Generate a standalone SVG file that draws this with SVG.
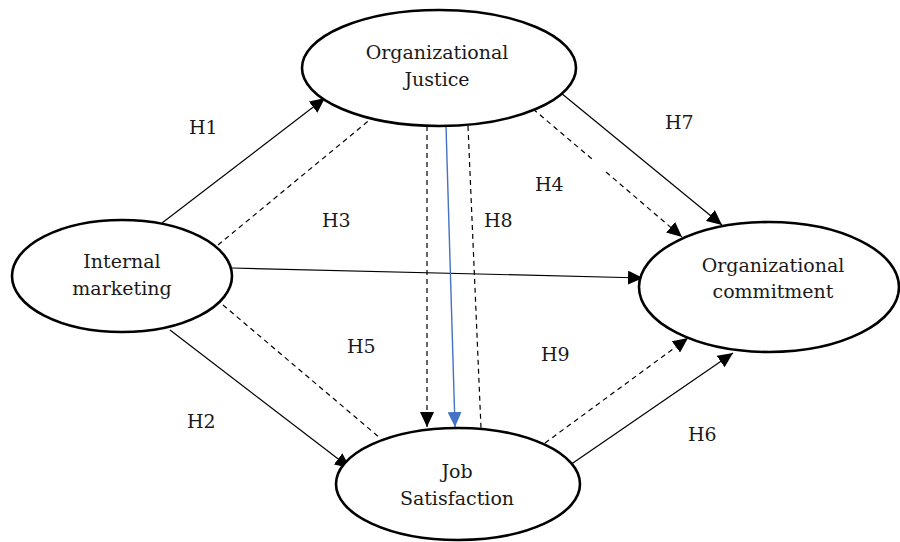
<svg xmlns="http://www.w3.org/2000/svg" width="900" height="542" viewBox="0 0 900 542">
<style>
.node ellipse{fill:#fff;stroke:#000;stroke-width:2.6}
text{font-family:"DejaVu Serif","Liberation Serif",serif;font-size:19px;fill:#1a1a1a}
.c{text-anchor:middle}
.s{stroke:#000;stroke-width:1.2;fill:none}
.d{stroke:#000;stroke-width:1.2;fill:none;stroke-dasharray:5 4}
.b{stroke:#4472C4;stroke-width:1.4;fill:none}
</style>
<defs>
<marker id="ah" markerUnits="userSpaceOnUse" markerWidth="16" markerHeight="14" refX="15" refY="7" orient="auto">
<path d="M0,0 L15,7 L0,14 Z" fill="#000"/>
</marker>
<marker id="ahb" markerUnits="userSpaceOnUse" markerWidth="16" markerHeight="14" refX="15" refY="7" orient="auto">
<path d="M0,0 L15,7 L0,14 Z" fill="#4472C4"/>
</marker>
</defs>
<rect width="900" height="542" fill="#fff"/>
<g id="connectors">
<line class="s" x1="162" y1="223" x2="325" y2="98" marker-end="url(#ah)"/>
<line class="d" x1="218" y1="245" x2="372" y2="118"/>
<line class="s" x1="232" y1="268" x2="643" y2="278" marker-end="url(#ah)"/>
<line class="d" x1="223" y1="305" x2="380" y2="438"/>
<line class="s" x1="170" y1="330" x2="350" y2="468" marker-end="url(#ah)"/>
<line class="d" x1="427" y1="126" x2="427" y2="427" marker-end="url(#ah)"/>
<line class="b" x1="446" y1="126" x2="455" y2="427" marker-end="url(#ahb)"/>
<line class="d" x1="468" y1="126" x2="481" y2="428"/>
<line class="s" x1="561" y1="93" x2="722" y2="225" marker-end="url(#ah)"/>
<line class="d" x1="533" y1="109" x2="592" y2="159"/>
<line class="d" x1="606" y1="172" x2="682" y2="237" marker-end="url(#ah)"/>
<line class="d" x1="545" y1="443" x2="688" y2="338" marker-end="url(#ah)"/>
<line class="s" x1="570" y1="465" x2="733" y2="353" marker-end="url(#ah)"/>
</g>
<g id="labels">
<text x="189" y="134">H1</text>
<text x="322" y="227">H3</text>
<text x="347" y="353">H5</text>
<text x="187" y="428">H2</text>
<text x="484" y="227">H8</text>
<text x="665" y="129">H7</text>
<text x="535" y="191">H4</text>
<text x="541" y="361">H9</text>
<text x="688" y="441">H6</text>
</g>
<g id="justice" class="node">
<ellipse cx="439" cy="68" rx="137" ry="58"/>
<text class="c" x="437" y="59">Organizational</text>
<text class="c" x="437" y="86">Justice</text>
</g>
<g id="internal" class="node">
<ellipse cx="122" cy="276" rx="110" ry="56"/>
<text class="c" x="122" y="268">Internal</text>
<text class="c" x="122" y="295">marketing</text>
</g>
<g id="commitment" class="node">
<ellipse cx="769" cy="287" rx="130" ry="65"/>
<text class="c" x="773" y="272">Organizational</text>
<text class="c" x="773" y="298">commitment</text>
</g>
<g id="satisfaction" class="node">
<ellipse cx="458" cy="484" rx="122" ry="56"/>
<text class="c" x="457" y="478">Job</text>
<text class="c" x="457" y="505">Satisfaction</text>
</g>
</svg>
